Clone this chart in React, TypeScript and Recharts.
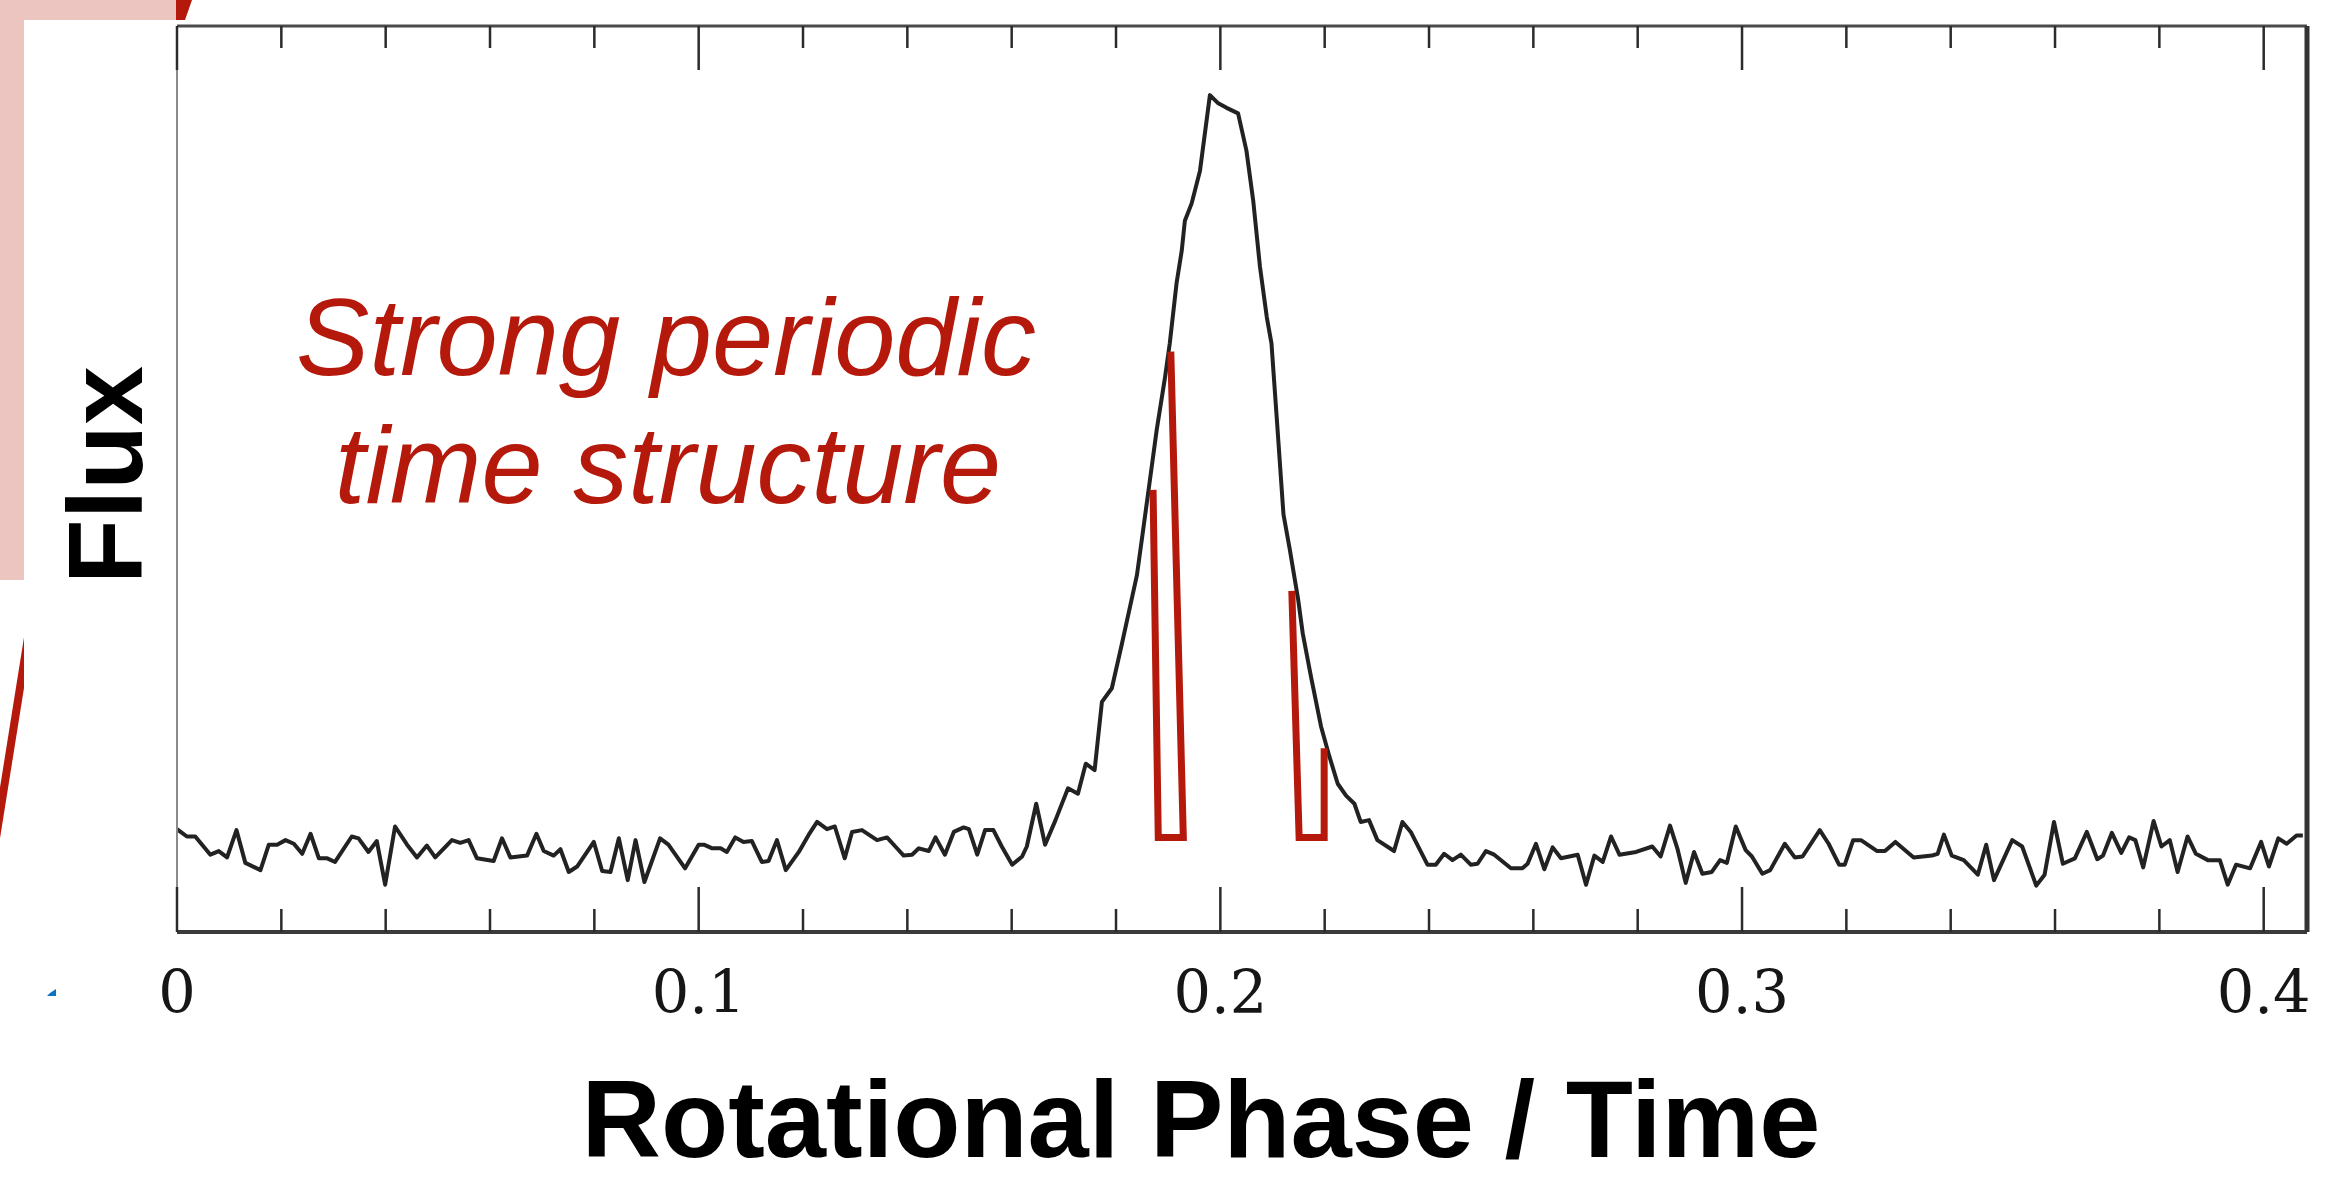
import React from 'react';
import { LineChart, Line, XAxis, YAxis } from 'recharts';

// flux trace, [phase, flux] in arbitrary units
const baselineEarly: [number, number][] = [
  [0, 11.3], [0.0019, 10.5], [0.0035, 10.5], [0.0064, 8.5], [0.008, 8.9], [0.0096, 8.2],
  [0.0114, 11.2], [0.0131, 7.6], [0.016, 6.8], [0.0176, 9.6], [0.0192, 9.6], [0.0208, 10.1],
  [0.0224, 9.7], [0.024, 8.6], [0.0256, 10.8], [0.0272, 8.1], [0.0288, 8.1], [0.0303, 7.7],
  [0.0335, 10.5], [0.0348, 10.3], [0.0367, 8.8], [0.0383, 10.0], [0.0399, 5.2], [0.0418, 11.6],
  [0.0441, 9.6], [0.046, 8.2], [0.0479, 9.5], [0.0495, 8.2], [0.0527, 10.1], [0.0543, 9.8],
  [0.0559, 10.1], [0.0575, 8.1], [0.0607, 7.8], [0.0623, 10.3], [0.0639, 8.2], [0.0671, 8.4],
  [0.0689, 10.8], [0.0703, 8.9], [0.0722, 8.4], [0.0735, 9.1], [0.0751, 6.6], [0.0767, 7.2],
  [0.0799, 9.9], [0.0815, 6.7], [0.0831, 6.6], [0.0847, 10.3], [0.0864, 5.7], [0.0879, 10.1],
  [0.0896, 5.5], [0.0926, 10.3], [0.0942, 9.6], [0.0974, 7.0], [0.1, 9.6],
];

const preRise: [number, number][] = [
  [0.101, 9.6], [0.1026, 9.2], [0.1042, 9.2], [0.1054, 8.8], [0.107, 10.4], [0.1086, 9.9],
  [0.1102, 10.0], [0.1121, 7.7], [0.1134, 7.8], [0.115, 10.1], [0.1167, 6.8], [0.1192, 8.8],
  [0.1211, 10.7], [0.1227, 12.1], [0.1246, 11.3], [0.1261, 11.6], [0.128, 8.1], [0.1294, 11.0],
  [0.1313, 11.2], [0.1342, 10.1], [0.1361, 10.4], [0.1377, 9.4], [0.1393, 8.4], [0.1409, 8.5],
  [0.1422, 9.2], [0.1441, 8.9], [0.1454, 10.4], [0.1472, 8.5], [0.1489, 11.0], [0.1508, 11.5],
  [0.1518, 11.3], [0.1534, 8.5], [0.1549, 11.2], [0.1565, 11.2], [0.1581, 9.4], [0.1601, 7.4],
  [0.162, 8.3], [0.1629, 9.4], [0.1647, 14.1], [0.1664, 9.6], [0.1684, 12.3], [0.1708, 15.8],
  [0.1727, 15.2], [0.1742, 18.5], [0.1759, 17.8], [0.1773, 25.3], [0.1792, 26.8],
];

const pulse: [number, number][] = [
  [0.1811, 31.6], [0.1827, 35.8], [0.184, 39.2], [0.1852, 44.2], [0.1865, 49.7], [0.1878, 55.2],
  [0.1894, 61.0], [0.1903, 64.7], [0.1916, 71.3], [0.1926, 74.9], [0.1932, 78.2], [0.1945, 80.1],
  [0.1961, 83.7], [0.198, 92.0], [0.1996, 91.1], [0.2012, 90.6], [0.2034, 90.0], [0.205, 85.9],
  [0.2063, 80.4], [0.2076, 73.1], [0.2089, 67.6], [0.2098, 64.7], [0.2108, 56.6], [0.2121, 45.9],
  [0.2133, 42.1], [0.2149, 36.6], [0.2158, 32.8], [0.2174, 28.0], [0.2193, 22.6], [0.2209, 19.3],
  [0.2225, 16.3], [0.2241, 15.0], [0.2257, 14.1], [0.2269, 12.1], [0.2285, 12.3], [0.2301, 10.1],
  [0.2333, 8.9], [0.2349, 12.1], [0.2365, 11.0],
];

const baselineLate: [number, number][] = [
  [0.2397, 7.4], [0.2413, 7.4], [0.2429, 8.6], [0.2445, 7.9], [0.2461, 8.5], [0.248, 7.4],
  [0.2493, 7.5], [0.2509, 8.9], [0.2525, 8.5], [0.2557, 7.0], [0.2579, 7.0], [0.2589, 7.5],
  [0.2605, 9.7], [0.2621, 6.9], [0.2637, 9.3], [0.2653, 8.1], [0.2685, 8.5], [0.2701, 5.2],
  [0.2717, 8.4], [0.2733, 7.7], [0.2749, 10.5], [0.2765, 8.5], [0.2797, 8.8], [0.2828, 9.4],
  [0.2844, 8.3], [0.2862, 11.7], [0.2876, 9.2], [0.2892, 5.4], [0.2908, 8.8], [0.2924, 6.4],
  [0.2942, 6.6], [0.2958, 7.9], [0.2971, 7.6], [0.2988, 11.6], [0.3007, 9.0], [0.3019, 8.3],
  [0.3039, 6.4], [0.3054, 6.8], [0.3082, 9.7], [0.3101, 8.2], [0.3116, 8.3], [0.3149, 11.2],
  [0.3166, 9.7], [0.3186, 7.4], [0.3197, 7.4], [0.3213, 10.1], [0.3228, 10.1], [0.3259, 8.9],
  [0.3274, 8.9], [0.3294, 9.9], [0.3329, 8.2], [0.3364, 8.4], [0.3375, 8.6], [0.3387, 10.7],
  [0.3402, 8.4], [0.3425, 7.9], [0.3452, 6.3], [0.3468, 9.6], [0.3483, 5.7], [0.3518, 10.1],
  [0.3537, 9.4], [0.3564, 5.1], [0.358, 6.3], [0.3598, 12.1], [0.3615, 7.5], [0.3638, 8.1],
  [0.3661, 11.0], [0.3681, 8.0], [0.3692, 8.4], [0.3709, 10.9], [0.3727, 8.7], [0.3742, 10.4],
  [0.3754, 10.1], [0.3769, 7.1], [0.3789, 12.2], [0.3804, 9.4], [0.382, 10.1], [0.3835, 6.6],
  [0.3854, 10.5], [0.387, 8.6], [0.3893, 7.9], [0.3916, 7.9], [0.3931, 5.2], [0.3947, 7.4],
  [0.3974, 7.0], [0.3995, 9.9], [0.401, 7.2], [0.4028, 10.3], [0.4044, 9.7], [0.4063, 10.6],
  [0.4075, 10.6],
];

// red outline marks drawn over the pulse edges
const leftMark: [number, number][] = [[0.1871, 48.6], [0.1881, 10.4], [0.1929, 10.4], [0.1905, 63.8]];
const rightMark: [number, number][] = [[0.2137, 37.5], [0.2151, 10.4], [0.2199, 10.4], [0.2199, 20.2]];

const phaseTicks = [0, 0.02, 0.04, 0.06, 0.08, 0.1, 0.12, 0.14, 0.16, 0.18, 0.2,
  0.22, 0.24, 0.26, 0.28, 0.3, 0.32, 0.34, 0.36, 0.38, 0.4];
const majorTicks = [0, 0.1, 0.2, 0.3, 0.4];
const majorLabels = ['0', '0.1', '0.2', '0.3', '0.4'];

const toRows = (pts: [number, number][]) => pts.map(([phase, flux]) => ({ phase, flux }));
const fluxData = toRows([...baselineEarly, ...preRise, ...pulse, ...baselineLate]);

const RED = '#b5190b';
const AXIS_MAX = 0.4083;
const FLUX_MAX = 99.6;

const majorIndex = (v: number) => majorTicks.findIndex((m) => Math.abs(m - v) < 1e-6);

const BottomTick = (props: any) => {
  const { x, y, payload } = props;
  const idx = majorIndex(payload.value);
  return (
    <g>
      <line x1={x} x2={x} y1={y} y2={y - (idx >= 0 ? 45 : 23)} stroke="#2b2b2b" strokeWidth={2.5} />
      {idx >= 0 && (
        <text x={x} y={y + 81} textAnchor="middle" fontFamily="'DejaVu Serif', serif" fontSize={59} fill="#161616">
          {majorLabels[idx]}
        </text>
      )}
    </g>
  );
};

const TopTick = (props: any) => {
  const { x, y, payload } = props;
  const idx = majorIndex(payload.value);
  return <line x1={x} x2={x} y1={y} y2={y + (idx >= 0 ? 44 : 22)} stroke="#2b2b2b" strokeWidth={2.5} />;
};

export default function App() {
  return (
    <div style={{ position: 'absolute', left: 0, top: 0, width: 2332, height: 1183, background: '#fff', overflow: 'hidden' }}>
      <LineChart width={2332} height={1183} data={fluxData} margin={{ top: 25, right: 24, bottom: 151, left: 176 }}>
        <XAxis
          xAxisId="bottom"
          type="number"
          dataKey="phase"
          domain={[0, AXIS_MAX]}
          allowDataOverflow
          ticks={phaseTicks}
          interval={0}
          height={100}
          tickSize={0}
          tickMargin={0}
          tickLine={false}
          tick={BottomTick}
          axisLine={{ stroke: '#3a3a3a', strokeWidth: 4 }}
        />
        <XAxis
          xAxisId="top"
          orientation="top"
          type="number"
          dataKey="phase"
          domain={[0, AXIS_MAX]}
          allowDataOverflow
          ticks={phaseTicks}
          interval={0}
          height={1}
          tickSize={0}
          tickMargin={0}
          tickLine={false}
          tick={TopTick}
          axisLine={{ stroke: '#4a4a4a', strokeWidth: 3 }}
        />
        <YAxis yAxisId="left" width={1} domain={[0, FLUX_MAX]} allowDataOverflow tick={false} tickLine={false}
          axisLine={{ stroke: '#8a8a8a', strokeWidth: 2 }} />
        <YAxis yAxisId="right" orientation="right" width={1} domain={[0, FLUX_MAX]} allowDataOverflow tick={false}
          tickLine={false} axisLine={{ stroke: '#333', strokeWidth: 5 }} />
        <Line xAxisId="bottom" yAxisId="left" type="linear" dataKey="flux" stroke="#222" strokeWidth={4}
          strokeLinejoin="round" dot={false} isAnimationActive={false} />
        <Line xAxisId="top" yAxisId="right" data={toRows(leftMark)} type="linear" dataKey="flux" stroke={RED}
          strokeWidth={7} strokeLinejoin="miter" dot={false} isAnimationActive={false} />
        <Line xAxisId="top" yAxisId="right" data={toRows(rightMark)} type="linear" dataKey="flux" stroke={RED}
          strokeWidth={7} strokeLinejoin="miter" dot={false} isAnimationActive={false} />
      </LineChart>
      <svg width={2332} height={1183} style={{ position: 'absolute', left: 0, top: 0, pointerEvents: 'none' }}>
        <defs>
          <clipPath id="stripClip">
            <rect x={0} y={0} width={24} height={1183} />
          </clipPath>
        </defs>
        {/* slide decoration behind the plot */}
        <polygon points="0,0 176,0 176,20 24,20 24,580 0,580" fill="#ecc5c1" />
        <polygon points="176,0 192,0 185,20 176,20" fill={RED} />
        <line x1={30} y1={625} x2={-4} y2={838} stroke={RED} strokeWidth={8} clipPath="url(#stripClip)" />
        <polygon points="47,996 56,996 56,989 50,993" fill="#0a72c2" />
        <text x={666} y={375} textAnchor="middle" fontFamily="'Liberation Sans', Arial, sans-serif" fontStyle="italic"
          fontSize={110} fill={RED}>Strong periodic</text>
        <text x={668} y={503} textAnchor="middle" fontFamily="'Liberation Sans', Arial, sans-serif" fontStyle="italic"
          fontSize={110} fill={RED}>time structure</text>
        <text transform="translate(142,475) rotate(-90)" textAnchor="middle" fontFamily="'Liberation Sans', Arial, sans-serif"
          fontWeight="bold" fontSize={106} fill="#000">Flux</text>
        <text x={1201} y={1157} textAnchor="middle" fontFamily="'Liberation Sans', Arial, sans-serif" fontWeight="bold"
          fontSize={110} fill="#000">Rotational Phase / Time</text>
      </svg>
    </div>
  );
}
